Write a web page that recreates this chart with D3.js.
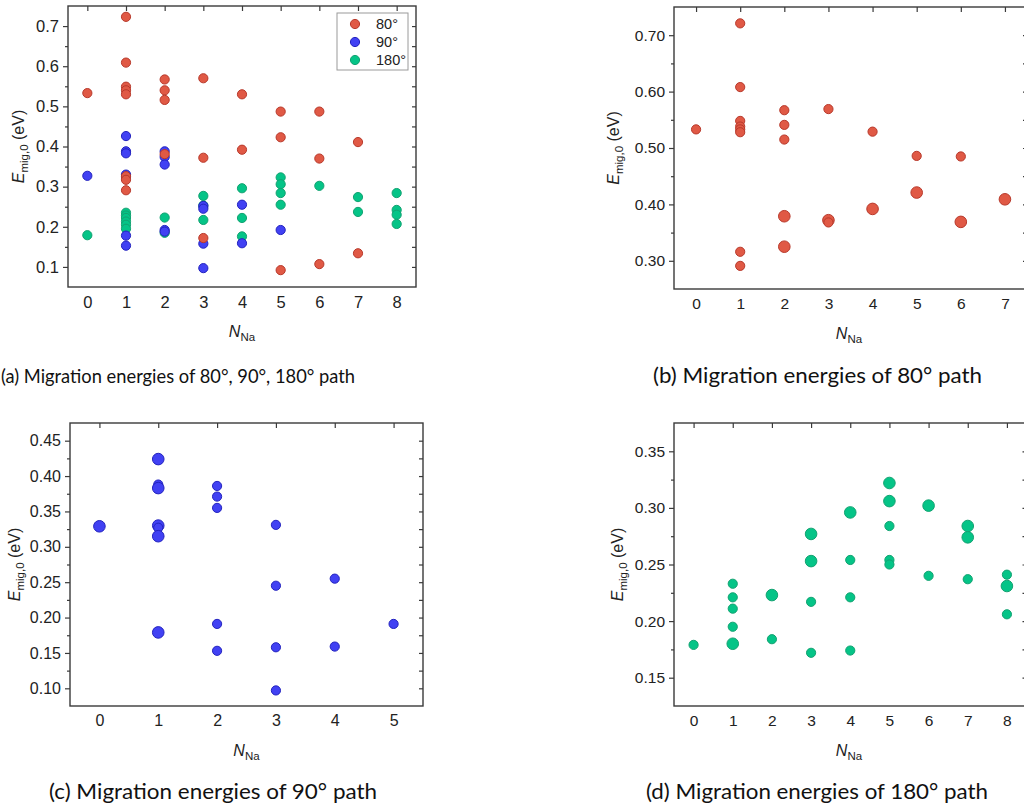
<!DOCTYPE html>
<html>
<head>
<meta charset="utf-8">
<script src="https://cdn.jsdelivr.net/npm/d3@7"></script>
<style>
  html, body { margin: 0; padding: 0; background: #fff; }
  svg { display: block; }
  .tick text { font-family: "Liberation Sans", Arial, sans-serif; fill: #222; }
  .caption { font-family: Lato, "Open Sans", sans-serif; fill: #111; }
</style>
</head>
<body>
<svg id="fig" width="1024" height="810"></svg>
<script>
// Migration energies E_mig,0 (eV) versus number of neighbouring Na atoms N_Na.
// Single-path panels: N_Na, energy, and number of equivalent configurations at that energy.

// 80° path
const n80 = [0, 1, 1, 1, 1, 1, 1, 1, 1, 2, 2, 2, 2, 2, 3, 3, 3, 3, 4, 4, 5, 5, 5, 6, 6, 6, 7, 7];
const e80 = [0.533, 0.721, 0.608, 0.548, 0.538, 0.533, 0.528, 0.316, 0.291,
             0.567, 0.541, 0.515, 0.379, 0.325, 0.569, 0.372, 0.368, 0.172,
             0.529, 0.392, 0.486, 0.421, 0.092, 0.485, 0.369, 0.107, 0.409, 0.134];
const m80 = [1, 1, 1, 1, 1, 1, 1, 1, 1, 1, 1, 1, 2, 2, 1, 2, 1, 1, 1, 2, 1, 2, 1, 1, 2, 1, 2, 1];

// 90° path
const n90 = [0, 1, 1, 1, 1, 1, 1, 1, 2, 2, 2, 2, 2, 3, 3, 3, 3, 4, 4, 5];
const e90 = [0.329, 0.424, 0.388, 0.383, 0.330, 0.327, 0.315, 0.179,
             0.386, 0.371, 0.355, 0.191, 0.153, 0.331, 0.245, 0.158, 0.097,
             0.255, 0.159, 0.191];
const m90 = [2, 2, 1, 2, 2, 1, 2, 2, 1, 1, 1, 1, 1, 1, 1, 1, 1, 1, 1, 1];

// 180° path
const n180 = [0, 1, 1, 1, 1, 1, 2, 2, 3, 3, 3, 3, 4, 4, 4, 4, 5, 5, 5, 5, 5, 6, 6, 7, 7, 7, 8, 8, 8];
const e180 = [0.179, 0.233, 0.221, 0.211, 0.195, 0.180, 0.223, 0.184,
              0.277, 0.253, 0.217, 0.172, 0.296, 0.254, 0.221, 0.174,
              0.322, 0.306, 0.284, 0.254, 0.250, 0.302, 0.240,
              0.284, 0.274, 0.237, 0.241, 0.231, 0.206];
const m180 = [1, 1, 1, 1, 1, 2, 2, 1, 2, 2, 1, 1, 2, 1, 1, 1, 2, 2, 1, 1, 1, 2, 1, 2, 2, 1, 1, 2, 1];

// Overview panel (a): combined data set of all three paths
const allN80 = [0, 1, 1, 1, 1, 1, 1, 1, 1, 2, 2, 2, 2, 3, 3, 3, 4, 4, 5, 5, 5, 6, 6, 6, 7, 7];
const allE80 = [0.533, 0.723, 0.609, 0.549, 0.540, 0.530, 0.326, 0.317, 0.291,
                0.567, 0.540, 0.516, 0.381, 0.570, 0.372, 0.172, 0.530, 0.392,
                0.487, 0.423, 0.092, 0.487, 0.370, 0.107, 0.411, 0.134];
const allN90 = [0, 1, 1, 1, 1, 1, 1, 1, 2, 2, 2, 2, 2, 3, 3, 3, 3, 4, 4, 5];
const allE90 = [0.327, 0.426, 0.388, 0.383, 0.330, 0.324, 0.178, 0.153,
                0.388, 0.374, 0.355, 0.192, 0.188, 0.252, 0.245, 0.158, 0.097,
                0.255, 0.159, 0.192];
const allN180 = [0, 1, 1, 1, 1, 1, 1, 2, 2, 3, 3, 3, 4, 4, 4, 5, 5, 5, 5, 6, 7, 7, 8, 8, 8, 8];
const allE180 = [0.179, 0.235, 0.228, 0.222, 0.213, 0.205, 0.195, 0.223, 0.185,
                 0.277, 0.253, 0.217, 0.296, 0.222, 0.176, 0.323, 0.306, 0.284, 0.255,
                 0.302, 0.274, 0.237, 0.284, 0.242, 0.230, 0.207];

const seriesNames = ["80°", "90°", "180°"];
const captions = [
  "(a) Migration energies of 80°, 90°, 180° path",
  "(b) Migration energies of 80° path",
  "(c) Migration energies of 90° path",
  "(d) Migration energies of 180° path"
];

const rows = (n, e, m) => n.map((d, i) => ({ n: d, e: e[i], m: m ? m[i] : 1 }));
const styles = {
  "80°":  { fill: "#e05945", stroke: "#b8392b" },
  "90°":  { fill: "#4141f3", stroke: "#2323bf" },
  "180°": { fill: "#05c487", stroke: "#12a271" }
};
const single = {
  "80°": rows(n80, e80, m80),
  "90°": rows(n90, e90, m90),
  "180°": rows(n180, e180, m180)
};
const overview = {
  "80°": rows(allN80, allE80),
  "90°": rows(allN90, allE90),
  "180°": rows(allN180, allE180)
};

const svg = d3.select("#fig");
const FONT = "'Liberation Sans', Arial, sans-serif";

function panel(cfg) {
  const g = svg.append("g");
  const x = d3.scaleLinear().domain([-0.5, cfg.xMax + 0.5]).range([cfg.l, cfg.r]);
  const y = d3.scaleLinear().domain(cfg.yDom).range([cfg.b, cfg.t]);
  const ints = d3.range(0, cfg.xMax + 1);
  const fmt = d3.format(cfg.fmt);

  // markers, clipped to the plot frame
  const clipId = "clip" + cfg.id;
  g.append("clipPath").attr("id", clipId).append("rect")
    .attr("x", cfg.l).attr("y", cfg.t).attr("width", cfg.r - cfg.l).attr("height", cfg.b - cfg.t);
  const rScale = d3.scaleSqrt().domain([1, 2]).range(cfg.radii);
  const plot = g.append("g").attr("clip-path", `url(#${clipId})`);
  cfg.draw.forEach(name => {
    const st = styles[name];
    plot.append("g").selectAll("circle")
      .data(cfg.data[name].filter(d => d.e >= cfg.yDom[0] && d.e <= cfg.yDom[1]))
      .join("circle")
      .attr("cx", d => x(d.n))
      .attr("cy", d => y(d.e))
      .attr("r", d => rScale(d.m))
      .attr("fill", st.fill)
      .attr("stroke", st.stroke)
      .attr("stroke-width", 1);
  });

  const axisColor = "#3a3a3a";
  // left axis: labelled majors, unlabelled minors, ticks outward
  g.append("g").attr("transform", `translate(${cfg.l},0)`)
    .call(d3.axisLeft(y).tickValues(cfg.yTicks).tickFormat(fmt).tickSize(5).tickSizeOuter(0).tickPadding(4));
  g.append("g").attr("transform", `translate(${cfg.l},0)`)
    .call(d3.axisLeft(y).tickValues(cfg.yMinor).tickFormat("").tickSize(3).tickSizeOuter(0));
  // right axis mirror, ticks inward
  g.append("g").attr("transform", `translate(${cfg.r},0)`)
    .call(d3.axisRight(y).tickValues(cfg.yTicks.concat(cfg.yMinor)).tickFormat("").tickSize(-4).tickSizeOuter(0));
  // top axis mirror, ticks inward
  g.append("g").attr("transform", `translate(0,${cfg.t})`)
    .call(d3.axisTop(x).tickValues(ints).tickFormat("").tickSize(-5).tickSizeOuter(0));
  // bottom axis labels
  g.append("g").attr("transform", `translate(0,${cfg.b})`)
    .call(d3.axisBottom(x).tickValues(ints).tickFormat(d3.format("d")).tickSize(0).tickSizeOuter(0).tickPadding(9));

  g.selectAll(".domain").remove();
  g.selectAll(".tick line").attr("stroke", axisColor).attr("stroke-width", 1.2);
  g.selectAll(".tick text").style("font-size", cfg.fs + "px");

  g.append("rect")
    .attr("x", cfg.l).attr("y", cfg.t).attr("width", cfg.r - cfg.l).attr("height", cfg.b - cfg.t)
    .attr("fill", "none").attr("stroke", axisColor).attr("stroke-width", 1.4);

  // x title: N_Na
  const xt = g.append("text")
    .attr("x", (cfg.l + Math.min(cfg.r, 1024)) / 2)
    .attr("y", cfg.b + 50)
    .attr("text-anchor", "middle")
    .style("font-family", FONT).style("font-size", "16px").attr("fill", "#222");
  xt.append("tspan").style("font-style", "italic").text("N");
  xt.append("tspan").attr("dy", 4).style("font-size", "11.5px").text("Na");

  // y title: E_mig,0 (eV)
  const yc = (cfg.t + cfg.b) / 2;
  const yt = g.append("text")
    .attr("transform", `translate(${cfg.yTitleX},${yc}) rotate(-90)`)
    .attr("text-anchor", "middle")
    .style("font-family", FONT).style("font-size", "16px").attr("fill", "#222");
  yt.append("tspan").style("font-style", "italic").text("E");
  yt.append("tspan").attr("dy", 4).style("font-size", "11.5px").text("mig,0");
  yt.append("tspan").attr("dy", -4).text(" (eV)");

  // caption
  svg.append("text").attr("class", "caption")
    .attr("x", cfg.capX).attr("y", cfg.capY)
    .attr("text-anchor", "start")
    .attr("textLength", cfg.capW)
    .attr("lengthAdjust", "spacingAndGlyphs")
    .style("font-size", cfg.capFs + "px")
    .text(cfg.caption);

  return { g, x, y };
}

// (a) all three paths
const pa = panel({
  id: "a", l: 68, r: 416, t: 6, b: 287, xMax: 8, data: overview,
  yDom: [0.05, 0.75], yTicks: d3.range(0.1, 0.71, 0.1), yMinor: d3.range(0.15, 0.70, 0.1),
  fmt: ".1f", fs: 16.5, draw: ["180°", "90°", "80°"], radii: [4.6, 4.6],
  yTitleX: 24, caption: captions[0], capX: 1, capY: 383, capW: 354, capFs: 19
});

// legend for panel (a)
const leg = pa.g.append("g");
leg.append("rect").attr("x", 337).attr("y", 13).attr("width", 71).attr("height", 57)
  .attr("fill", "#fff").attr("stroke", "#9a9a9a").attr("stroke-width", 1);
seriesNames.forEach((name, i) => {
  const yy = 24 + i * 18;
  leg.append("circle").attr("cx", 355).attr("cy", yy).attr("r", 4.6)
    .attr("fill", styles[name].fill).attr("stroke", styles[name].stroke);
  leg.append("text").attr("x", 376).attr("y", yy + 5)
    .style("font-family", FONT).style("font-size", "14.5px").attr("fill", "#222").text(name);
});

// (b) 80° path
panel({
  id: "b", l: 674, r: 1027, t: 7, b: 289, xMax: 7, data: single,
  yDom: [0.25, 0.75], yTicks: d3.range(0.3, 0.71, 0.1), yMinor: d3.range(0.35, 0.70, 0.1),
  fmt: ".2f", fs: 15.5, draw: ["80°"], radii: [4.6, 5.8],
  yTitleX: 619, caption: captions[1], capX: 653, capY: 383, capW: 329, capFs: 21
});

// (c) 90° path
panel({
  id: "c", l: 70, r: 423, t: 423, b: 706, xMax: 5, data: single,
  yDom: [0.075, 0.475], yTicks: d3.range(0.10, 0.451, 0.05), yMinor: d3.range(0.125, 0.45, 0.05),
  fmt: ".2f", fs: 16, draw: ["90°"], radii: [4.6, 5.8],
  yTitleX: 20, caption: captions[2], capX: 49, capY: 799, capW: 328, capFs: 21
});

// (d) 180° path
panel({
  id: "d", l: 674, r: 1026.5, t: 423, b: 706, xMax: 8, data: single,
  yDom: [0.125, 0.375], yTicks: d3.range(0.15, 0.351, 0.05), yMinor: d3.range(0.175, 0.35, 0.05),
  fmt: ".2f", fs: 15.5, draw: ["180°"], radii: [4.6, 5.8],
  yTitleX: 623, caption: captions[3], capX: 646, capY: 799, capW: 342, capFs: 21
});
</script>
</body>
</html>
